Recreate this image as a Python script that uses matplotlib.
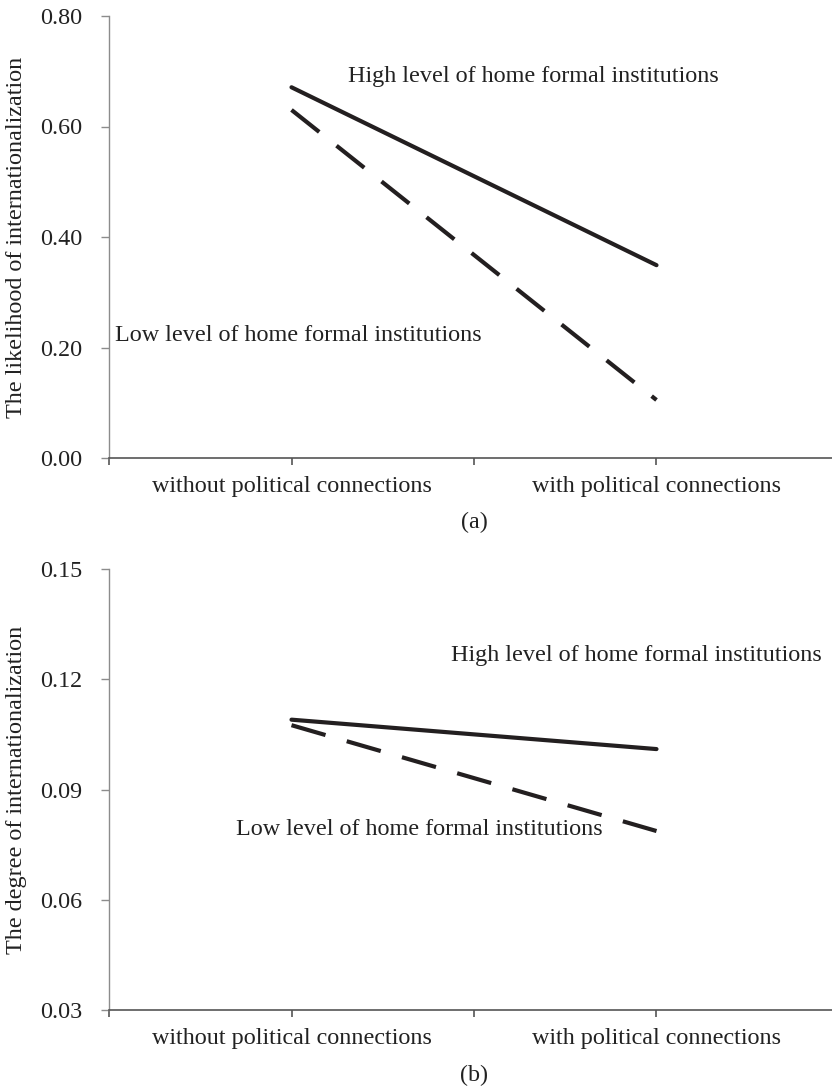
"""Interaction plots: political connections x home formal institutions."""

import matplotlib
matplotlib.use("Agg")
import matplotlib.pyplot as plt
from matplotlib.ticker import FormatStrFormatter

plt.rcParams["font.family"] = ["Liberation Serif", "DejaVu Serif"]

conditions = ["without political connections", "with political connections"]
x_pos = [1, 3]

likelihood_high = [0.671, 0.349]
likelihood_low = [0.630, 0.105]
likelihood_ticks = [0.00, 0.20, 0.40, 0.60, 0.80]

degree_high = [0.109, 0.101]
degree_low = [0.1075, 0.0787]
degree_ticks = [0.03, 0.06, 0.09, 0.12, 0.15]

high_label = "High level of home formal institutions"
low_label = "Low level of home formal institutions"

INK = "#231f20"
TXT = "#222222"
FS = 17.4


def style_axis(ax, yticks):
    ax.set_xlim(0, 4)
    ax.set_ylim(yticks[0], yticks[-1])
    ax.set_yticks(yticks)
    ax.yaxis.set_major_formatter(FormatStrFormatter("%.2f"))
    ax.set_xticks([0, 1, 2, 3, 4])
    ax.set_xticklabels(["", conditions[0], "", conditions[1], ""])
    for side in ("top", "right"):
        ax.spines[side].set_visible(False)
    ax.spines["left"].set_color("#8c8c8c")
    ax.spines["bottom"].set_color("#555555")
    ax.spines["left"].set_linewidth(1.0)
    ax.spines["bottom"].set_linewidth(1.2)
    ax.tick_params(axis="y", length=6, width=1.0, color="#8c8c8c", pad=13,
                   labelsize=FS, labelcolor=TXT)
    ax.tick_params(axis="x", length=5, width=1.2, color="#555555", pad=8,
                   labelsize=FS, labelcolor=TXT)


def draw_lines(ax, high, low):
    ax.plot(x_pos, high, color=INK, lw=3.0, solid_capstyle="round", clip_on=False)
    ax.plot(x_pos, low, color=INK, lw=3.0, dashes=(8.5, 5.3), dash_capstyle="butt",
            clip_on=False)


fig = plt.figure(figsize=(8.32, 10.89), dpi=100)

ax_a = fig.add_axes([109 / 832, 1 - 458 / 1089, 730 / 832, 442 / 1089])
draw_lines(ax_a, likelihood_high, likelihood_low)
style_axis(ax_a, likelihood_ticks)
ax_a.text(2.323, 0.69, high_label, ha="center", va="center", fontsize=FS, color=TXT)
ax_a.text(1.04, 0.221, low_label, ha="center", va="center", fontsize=FS, color=TXT)
fig.text(17 / 832, 1 - 237 / 1089, "The likelihood of internationalization",
         rotation=90, ha="center", va="center", fontsize=FS, color=TXT)
fig.text(474 / 832, 1 - 522 / 1089, "(a)", ha="center", va="center",
         fontsize=FS, color=TXT)

ax_b = fig.add_axes([109 / 832, 1 - 1010 / 1089, 730 / 832, 441 / 1089])
draw_lines(ax_b, degree_high, degree_low)
style_axis(ax_b, degree_ticks)
ax_b.text(2.89, 0.1265, high_label, ha="center", va="center", fontsize=FS, color=TXT)
ax_b.text(1.70, 0.0792, low_label, ha="center", va="center", fontsize=FS, color=TXT)
fig.text(17 / 832, 1 - 790 / 1089, "The degree of internationalization",
         rotation=90, ha="center", va="center", fontsize=FS, color=TXT)
fig.text(474 / 832, 1 - 1075 / 1089, "(b)", ha="center", va="center",
         fontsize=FS, color=TXT)

fig.savefig("out.png", dpi=100)
